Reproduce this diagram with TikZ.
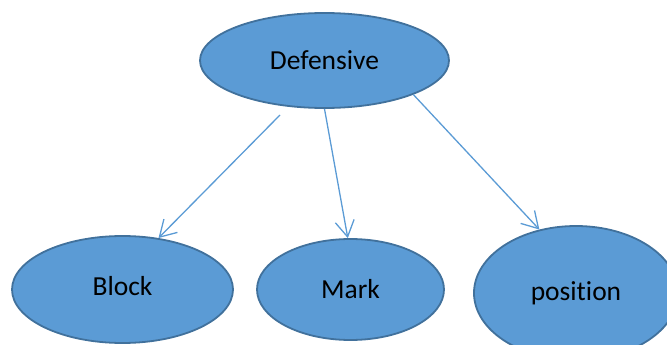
\documentclass[tikz,border=0pt]{standalone}
\usepackage{fontspec}
\setmainfont[Ligatures=NoCommon]{Carlito}
\usetikzlibrary{shapes.geometric,arrows.meta}
\definecolor{fillblue}{HTML}{5B9BD5}
\definecolor{edgeblue}{HTML}{41719C}
\begin{document}
\begin{tikzpicture}[x=1pt,y=-1pt,
  oval/.style={ellipse,draw=edgeblue,fill=fillblue,line width=1.8pt,inner sep=0pt,
    font=\fontsize{27.5}{32}\selectfont},
  arr/.style={draw=fillblue,line width=1.3pt,-{Straight Barb[length=16pt,width=19pt]}}]
\useasboundingbox (0,0) rectangle (667,345);
\clip (0,0) rectangle (667,345);
\node[oval,minimum width=249pt,minimum height=95pt] (def) at (324.5,60.5) {Defensive};
\node[oval,minimum width=221pt,minimum height=107pt,text depth=8pt] (block) at (122.5,289.5) {Block};
\node[oval,minimum width=187pt,minimum height=101pt] (mark) at (350.5,289.5) {Mark};
\node[oval,minimum width=204pt,minimum height=134pt] (pos) at (576,293) {position};
\coordinate (s1) at (280,115);
\draw[arr] (s1) -- (block.55);
\draw[arr] (def.south) -- (mark.93);
\draw[arr] (def.-21) -- (pos.120);
\end{tikzpicture}
\end{document}
